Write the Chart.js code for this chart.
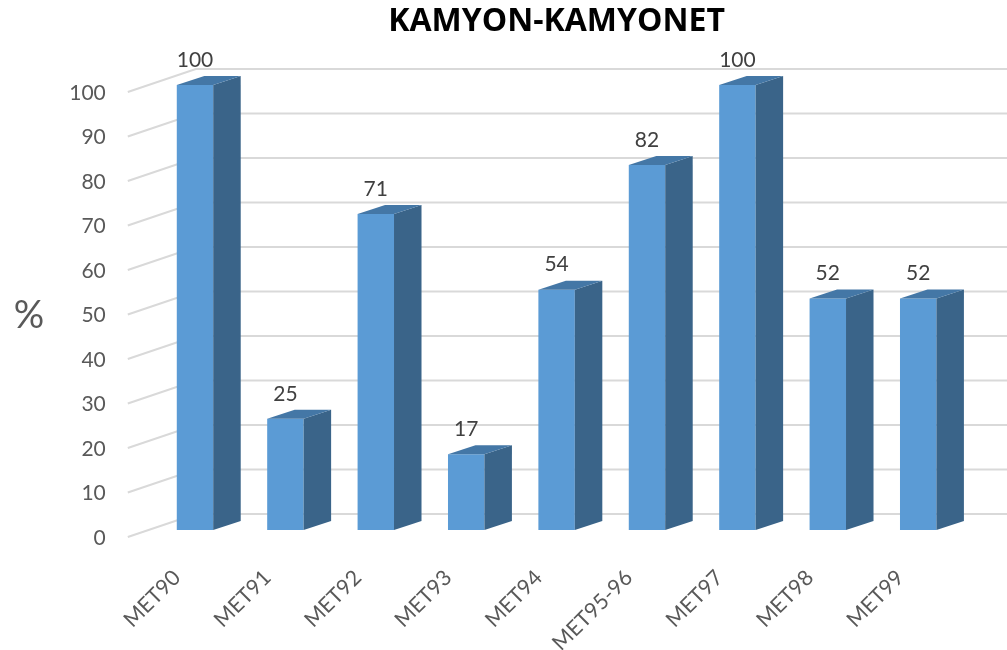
<!DOCTYPE html>
<html>
<head>
<meta charset="utf-8">
<title>KAMYON-KAMYONET</title>
<script src="https://cdn.jsdelivr.net/npm/chart.js@4"></script>
<style>
  html, body { margin: 0; padding: 0; background: #fff; }
  canvas { display: block; }
</style>
</head>
<body>
<canvas id="bar-chart" width="1007" height="650"></canvas>
<script>
const categories = ['MET90', 'MET91', 'MET92', 'MET93', 'MET94', 'MET95-96', 'MET97', 'MET98', 'MET99'];
const values = [100, 25, 71, 17, 54, 82, 100, 52, 52];
const yTicks = [0, 10, 20, 30, 40, 50, 60, 70, 80, 90, 100];

const FONT = 'Lato';
const TEXT = '#595959';

// Fake 3D: bars sit a bit behind the axis plane, the wall further back
const plugin3d = {
  id: 'plugin3d',
  beforeDatasetsDraw(chart) {
    const { ctx, scales: { y } } = chart;
    ctx.save();
    ctx.strokeStyle = '#D9D9D9';
    ctx.lineWidth = 2;
    yTicks.forEach((t) => {
      const py = y.getPixelForValue(t);
      ctx.beginPath();
      ctx.moveTo(y.right - 22, py);
      ctx.lineTo(y.right + 46, py - 23);
      ctx.lineTo(chart.width, py - 23);
      ctx.stroke();
    });
    ctx.restore();
    // y axis name, not rotated
    ctx.save();
    ctx.fillStyle = TEXT;
    ctx.font = '38px ' + FONT;
    ctx.textAlign = 'center';
    ctx.textBaseline = 'middle';
    ctx.fillText('%', 29, 316);
    ctx.restore();
  },
  beforeDatasetDraw(chart) {
    chart.ctx.save();
    chart.ctx.translate(0, -7);
  },
  afterDatasetDraw(chart) {
    const ctx = chart.ctx;
    const dx = 27.5, dy = -9;
    chart.getDatasetMeta(0).data.forEach((bar, i) => {
      const right = bar.x + bar.width / 2;
      const left = bar.x - bar.width / 2;
      // side
      ctx.fillStyle = '#3A6489';
      ctx.beginPath();
      ctx.moveTo(right, bar.y);
      ctx.lineTo(right + dx, bar.y + dy);
      ctx.lineTo(right + dx, bar.base + dy);
      ctx.lineTo(right, bar.base);
      ctx.closePath();
      ctx.fill();
      // top
      ctx.fillStyle = '#4477A6';
      ctx.beginPath();
      ctx.moveTo(left, bar.y);
      ctx.lineTo(left + dx, bar.y + dy);
      ctx.lineTo(right + dx, bar.y + dy);
      ctx.lineTo(right, bar.y);
      ctx.closePath();
      ctx.fill();
      // value label
      ctx.fillStyle = '#404040';
      ctx.font = '21px ' + FONT;
      ctx.textAlign = 'center';
      ctx.textBaseline = 'middle';
      ctx.fillText(values[i], bar.x, bar.y - 25);
    });
    ctx.restore();
  }
};

new Chart(document.getElementById('bar-chart'), {
  type: 'bar',
  data: {
    labels: categories,
    datasets: [{
      data: values,
      backgroundColor: '#5B9BD5',
      borderWidth: 0,
      categoryPercentage: 1,
      barPercentage: 0.403,
      clip: false
    }]
  },
  options: {
    responsive: false,
    animation: false,
    layout: { padding: { right: 43.6 } },
    plugins: {
      legend: { display: false },
      tooltip: { enabled: false },
      title: {
        display: true,
        text: 'KAMYON-KAMYONET',
        fullSize: false,
        color: '#000',
        font: { family: 'Open Sans', size: 32, weight: 'bold', lineHeight: 1.2 },
        padding: { top: 3, bottom: 50.6 }
      }
    },
    scales: {
      x: {
        grid: { display: false },
        border: { display: false },
        ticks: {
          color: TEXT,
          font: { family: FONT, size: 21.5 },
          minRotation: 45,
          maxRotation: 45,
          autoSkip: false,
          padding: 20,
          labelOffset: -18
        },
        afterFit(scale) { scale.height = 113; }
      },
      y: {
        min: 0,
        max: 100,
        grid: { display: false, drawTicks: false },
        border: { display: false },
        ticks: {
          stepSize: 10,
          color: TEXT,
          font: { family: FONT, size: 21 },
          padding: 44,
          labelOffset: 1
        },
        afterFit(scale) { scale.width = 149.8; }
      }
    }
  },
  plugins: [plugin3d]
});
</script>
</body>
</html>
